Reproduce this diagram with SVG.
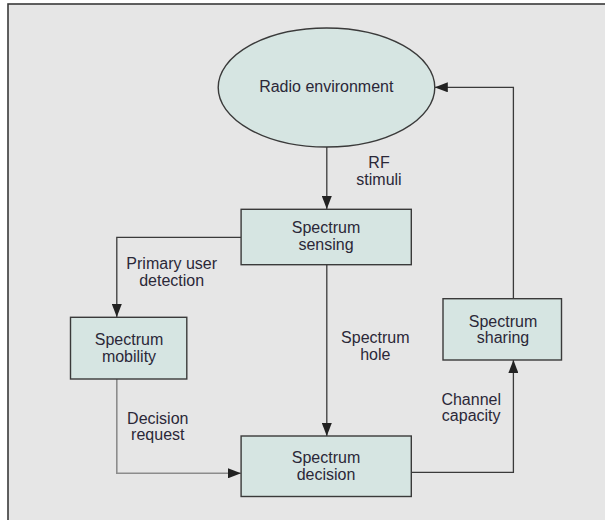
<svg xmlns="http://www.w3.org/2000/svg" width="605" height="520" viewBox="0 0 605 520">
<defs>
<style>
.frame{fill:#e6e6e6;stroke:#3a3a3a;stroke-width:1.6}
.node{fill:#d6e5e2;stroke:#3a3a3a;stroke-width:1.4}
.lbl{font-family:"Liberation Sans",Arial,sans-serif;font-size:16px;fill:#2b2838;text-anchor:middle}
.conn{fill:none;stroke:#3a3a3a;stroke-width:1.3}
.conn-gray{fill:none;stroke:#8c8c8c;stroke-width:1.6}
</style>
<marker id="arr" viewBox="0 0 13 10" refX="13" refY="5" markerWidth="13" markerHeight="10" markerUnits="userSpaceOnUse" orient="auto">
<path d="M0,0 L13,5 L0,10 Z" fill="#222"/>
</marker>
</defs>
<rect x="0" y="0" width="605" height="520" fill="#ffffff"/>
<rect class="frame" x="8" y="4" width="610" height="530"/>

<g id="connectors">
<path class="conn" d="M326.8,147 V209" marker-end="url(#arr)"/>
<path class="conn" d="M241,237.3 H116.8 V317" marker-end="url(#arr)"/>
<path class="conn" d="M326.8,265 V436" marker-end="url(#arr)"/>
<path class="conn-gray" d="M116.8,379 V473.3 H241" marker-end="url(#arr)"/>
<path class="conn" d="M411.5,472.3 H513.4 V360" marker-end="url(#arr)"/>
<path class="conn" d="M513.4,299 V87.3 H434.8" marker-end="url(#arr)"/>
<text class="lbl" x="379" y="168.3">RF</text>
<text class="lbl" x="379" y="185">stimuli</text>
<text class="lbl" x="171.7" y="269.3">Primary user</text>
<text class="lbl" x="171.7" y="285.7">detection</text>
<text class="lbl" x="375.3" y="343.3">Spectrum</text>
<text class="lbl" x="375.3" y="359.5">hole</text>
<text class="lbl" x="157.8" y="424">Decision</text>
<text class="lbl" x="157.8" y="440">request</text>
<text class="lbl" x="471.2" y="405">Channel</text>
<text class="lbl" x="471.2" y="421">capacity</text>
</g>

<g id="radio-environment">
<ellipse class="node" cx="326.5" cy="87.5" rx="108.3" ry="59.5"/>
<text class="lbl" x="326.3" y="92.3">Radio environment</text>
</g>

<g id="spectrum-sensing">
<rect class="node" x="241.1" y="209.3" width="170.2" height="55.4"/>
<text class="lbl" x="326" y="233.3">Spectrum</text>
<text class="lbl" x="326" y="249.5">sensing</text>
</g>

<g id="spectrum-mobility">
<rect class="node" x="70.5" y="317.3" width="116.3" height="61.7"/>
<text class="lbl" x="129" y="345">Spectrum</text>
<text class="lbl" x="129" y="361.5">mobility</text>
</g>

<g id="spectrum-sharing">
<rect class="node" x="443" y="298.7" width="118.5" height="61.3"/>
<text class="lbl" x="503" y="326.7">Spectrum</text>
<text class="lbl" x="503" y="343.3">sharing</text>
</g>

<g id="spectrum-decision">
<rect class="node" x="241.1" y="436" width="170.2" height="60.5"/>
<text class="lbl" x="326" y="463.3">Spectrum</text>
<text class="lbl" x="326" y="480">decision</text>
</g>
</svg>
